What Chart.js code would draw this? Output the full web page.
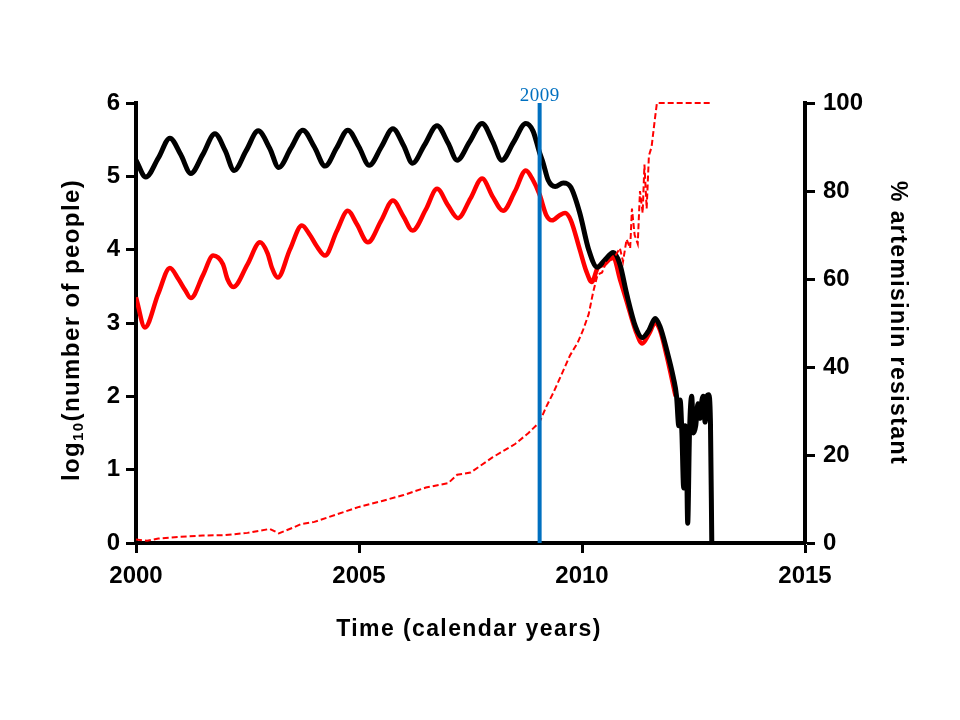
<!DOCTYPE html>
<html>
<head>
<meta charset="utf-8">
<script src="https://cdn.jsdelivr.net/npm/chart.js@4.4.0/dist/chart.umd.min.js"></script>
<style>
  html,body{margin:0;padding:0;background:#fff;}
  canvas{display:block;}
</style>
</head>
<body>
<canvas id="chart" width="960" height="720"></canvas>
<script>
// total population, log10 scale (black)
const totalYears=[2000.0,2000.22,2000.5,2000.76,2001.0,2001.23,2001.5,2001.77,2002.0,2002.2,2002.47,2002.74,2003.0,2003.2,2003.47,2003.74,2004.0,2004.24,2004.5,2004.75,2005.0,2005.23,2005.5,2005.76,2006.0,2006.2,2006.47,2006.75,2007.0,2007.2,2007.48,2007.76,2008.0,2008.2,2008.47,2008.74,2008.9,2009.05,2009.13,2009.24,2009.4,2009.58,2009.75,2009.95,2010.15,2010.34,2010.5,2010.7,2010.85,2011.0,2011.2,2011.35,2011.5,2011.64,2011.75,2011.9,2012.05,2012.12,2012.17,2012.2,2012.24,2012.28,2012.31,2012.34,2012.37,2012.41,2012.46,2012.5,2012.55,2012.6,2012.65,2012.69,2012.72,2012.76,2012.8,2012.84,2012.88,2012.91];
const totalLog=[5.22,4.99,5.25,5.52,5.3,5.04,5.3,5.58,5.35,5.08,5.35,5.62,5.38,5.12,5.38,5.63,5.4,5.14,5.39,5.63,5.4,5.15,5.4,5.65,5.42,5.18,5.43,5.69,5.45,5.22,5.47,5.72,5.47,5.22,5.47,5.72,5.62,5.32,5.18,4.95,4.86,4.91,4.85,4.5,4.0,3.76,3.85,3.96,3.8,3.4,2.95,2.8,2.9,3.06,2.95,2.63,2.25,2.0,1.6,1.95,1.5,0.75,1.6,1.4,0.27,1.5,2.0,1.5,1.6,1.9,1.7,1.95,2.0,1.65,2.0,2.02,1.65,0];

// second population, log10 scale (thick red)
const clinicalYears=[2000.0,2000.2,2000.5,2000.76,2000.95,2001.1,2001.23,2001.5,2001.73,2001.95,2002.05,2002.18,2002.5,2002.78,2002.95,2003.05,2003.18,2003.45,2003.72,2003.9,2004.05,2004.24,2004.5,2004.75,2004.95,2005.2,2005.5,2005.76,2006.0,2006.2,2006.5,2006.75,2007.0,2007.22,2007.5,2007.76,2008.0,2008.23,2008.5,2008.74,2008.9,2009.05,2009.2,2009.33,2009.5,2009.62,2009.75,2009.95,2010.1,2010.22,2010.35,2010.5,2010.7,2010.85,2011.0,2011.2,2011.35,2011.5,2011.64,2011.75,2011.9,2012.1];
const clinicalLog=[3.35,2.94,3.4,3.75,3.6,3.45,3.34,3.65,3.92,3.8,3.6,3.49,3.8,4.1,3.95,3.75,3.62,4.0,4.33,4.2,4.05,3.92,4.25,4.53,4.35,4.1,4.4,4.67,4.45,4.26,4.55,4.83,4.6,4.43,4.7,4.97,4.72,4.53,4.8,5.08,4.95,4.75,4.47,4.4,4.47,4.5,4.4,4.0,3.7,3.56,3.75,3.8,3.9,3.6,3.3,2.9,2.72,2.85,3.0,2.9,2.55,2.0];

// % artemisinin resistant (dashed red, right axis)
const resistYears=[2000.0,2000.25,2000.5,2001.0,2001.5,2002.0,2002.5,2003.0,2003.2,2003.5,2003.7,2004.0,2004.5,2005.0,2005.5,2006.0,2006.5,2007.0,2007.2,2007.5,2008.0,2008.5,2008.8,2009.05,2009.2,2009.35,2009.55,2009.73,2009.9,2010.02,2010.15,2010.25,2010.35,2010.45,2010.55,2010.7,2010.85,2010.92,2011.0,2011.08,2011.12,2011.18,2011.25,2011.3,2011.36,2011.4,2011.45,2011.5,2011.56,2011.63,2011.68,2012.93];
const resistPct=[0.8,0.5,1.0,1.4,1.7,1.8,2.3,3.2,2.2,3.4,4.3,4.8,6.5,8.2,9.5,10.9,12.6,13.6,15.5,16.0,19.5,22.5,25,27.5,31,34,38.5,42.6,45.5,48.3,52,57,61,61.5,64,64.5,67,64,69,67,76,70,68,80,75,86,76,88,90,96,100,100];

const xTicks=[2000,2005,2010,2015];
const markerYear=2009;
const markerPos=2009.05;

const leftTitle=["log","10","(number of people)"];
const rightTitle="% artemisinin resistant";
const xTitle="Time (calendar years)";

const FONT='"Liberation Sans", Arial, Helvetica, sans-serif';

function pts(xs,ys){return xs.map((x,i)=>({x:x,y:ys[i]}));}

const axisGrid={display:true,drawOnChartArea:false,drawTicks:true,tickLength:10,tickWidth:3,tickColor:"#000"};
const axisBorder={display:true,color:"#000",width:4};
const tickFont={family:FONT,size:24,weight:"bold"};

const titlePlugin={
  id:"titles",
  afterDraw(chart){
    const ctx=chart.ctx;
    const xs=chart.scales.x;
    ctx.save();
    ctx.fillStyle="#000";
    ctx.textBaseline="middle";
    ctx.letterSpacing="1.4px";
    // x title
    ctx.font="bold 23px "+FONT;
    ctx.textAlign="center";
    ctx.fillText(xTitle,469,630);
    // right title, reads top to bottom
    ctx.save();
    ctx.translate(897,323);
    ctx.rotate(Math.PI/2);
    ctx.fillText(rightTitle,0,0);
    ctx.restore();
    // left title with subscript
    ctx.save();
    ctx.translate(72,330);
    ctx.rotate(-Math.PI/2);
    ctx.textAlign="left";
    const big="bold 24px "+FONT, small="bold 15px "+FONT;
    ctx.font=big;
    const w1=ctx.measureText(leftTitle[0]).width;
    const w3=ctx.measureText(leftTitle[2]).width;
    ctx.font=small;
    const w2=ctx.measureText(leftTitle[1]).width;
    let p=-(w1+w2+w3)/2;
    ctx.font=big; ctx.fillText(leftTitle[0],p,0); p+=w1;
    ctx.font=small; ctx.fillText(leftTitle[1],p,7); p+=w2;
    ctx.font=big; ctx.fillText(leftTitle[2],p,0);
    ctx.restore();
    // marker label
    ctx.letterSpacing="0.5px";
    ctx.fillStyle="#0070C0";
    ctx.font='19px "Liberation Serif", "DejaVu Serif", serif';
    ctx.textAlign="center";
    ctx.textBaseline="alphabetic";
    ctx.fillText(String(markerYear),xs.getPixelForValue(markerPos),101);
    ctx.restore();
  }
};

new Chart(document.getElementById("chart").getContext("2d"),{
  type:"line",
  data:{
    datasets:[
      {label:"marker",data:[{x:markerPos,y:0},{x:markerPos,y:6}],borderColor:"#0070C0",borderWidth:4,pointRadius:0,yAxisID:"y"},
      {label:"resistant",data:pts(resistYears,resistPct),borderColor:"#ff0000",borderWidth:2,borderDash:[6,3],pointRadius:0,tension:0,clip:false,yAxisID:"y2"},
      {label:"total",data:pts(totalYears,totalLog),borderColor:"#000",borderWidth:5,pointRadius:0,cubicInterpolationMode:"monotone",yAxisID:"y"},
      {label:"clinical",data:pts(clinicalYears,clinicalLog),borderColor:"#ff0000",borderWidth:4.5,pointRadius:0,cubicInterpolationMode:"monotone",yAxisID:"y"}
    ]
  },
  options:{
    responsive:false,
    animation:false,
    devicePixelRatio:1,
    layout:{padding:{top:103,left:0,right:0,bottom:0}},
    plugins:{legend:{display:false},tooltip:{enabled:false}},
    scales:{
      x:{
        type:"linear",position:"bottom",min:2000,max:2015,
        afterBuildTicks(s){s.ticks=xTicks.map(v=>({value:v}));},
        ticks:{color:"#000",font:tickFont,padding:9,maxRotation:0,autoSkip:false,callback:v=>String(v)},
        grid:axisGrid,border:axisBorder,
        afterFit(s){s.height=177;}
      },
      y:{
        position:"left",min:0,max:6,
        ticks:{stepSize:1,color:"#000",font:tickFont,padding:6},
        grid:axisGrid,border:axisBorder,
        afterFit(s){s.width=136;}
      },
      y2:{
        position:"right",min:0,max:100,
        ticks:{stepSize:20,color:"#000",font:tickFont,padding:8},
        grid:axisGrid,border:axisBorder,
        afterFit(s){s.width=155;}
      }
    }
  },
  plugins:[titlePlugin]
});
</script>
</body>
</html>
